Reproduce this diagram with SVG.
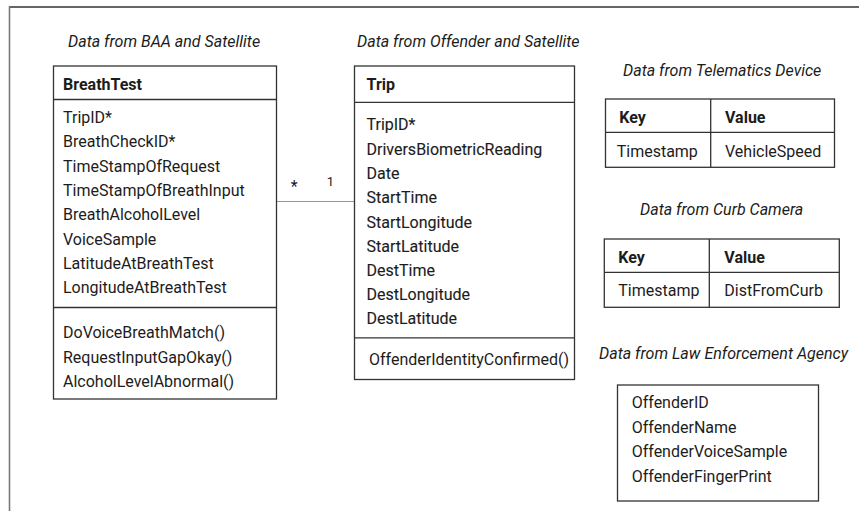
<svg xmlns="http://www.w3.org/2000/svg" width="859" height="511" viewBox="0 0 859 511">
  <style>
    text { font-family: Roboto, "Liberation Sans", sans-serif; fill: #1c1c1c; }
    .t { font-size: 16px; }
    .b { font-size: 16px; font-weight: bold; }
    .m { font-size: 16px; stroke: #1c1c1c; stroke-width: 0.12; }
    .cap { font-size: 16px; font-style: italic; }
    .mult { font-size: 13px; }
    .star { font-size: 16px; }
    .box { fill: #ffffff; stroke: #333333; stroke-width: 1.3; }
    .div { stroke: #333333; stroke-width: 1.3; fill: none; }
    .conn { stroke: #6a9fd6; stroke-width: 1.2; fill: none; }
  </style>

  <rect width="859" height="511" fill="#ffffff"/>

  <!-- frame -->
  <g id="frame">
    <line x1="9" y1="7" x2="859" y2="7" stroke="#333333" stroke-width="1.4"/>
    <line x1="9.5" y1="6.3" x2="9.5" y2="511" stroke="#7a7a7a" stroke-width="1.6"/>
  </g>

  <!-- section captions -->
  <g id="captions">
    <text class="cap" x="68" y="47">Data from BAA and Satellite</text>
    <text class="cap" x="357" y="47">Data from Offender and Satellite</text>
    <text class="cap" x="623" y="76">Data from Telematics Device</text>
    <text class="cap" x="640" y="215">Data from Curb Camera</text>
    <text class="cap" x="599" y="359">Data from Law Enforcement Agency</text>
  </g>

  <!-- associations -->
  <g id="connectors">
    <line class="conn" x1="276.5" y1="201.5" x2="354.5" y2="201.5"/>
    <text class="star" x="294.3" y="192" text-anchor="middle">*</text>
    <text class="mult" x="330.5" y="186" text-anchor="middle">1</text>
  </g>

  <!-- BreathTest class -->
  <g id="BreathTest">
    <rect class="box" x="53.5" y="66" width="223" height="333"/>
    <line class="div" x1="53.5" y1="99.5" x2="276.5" y2="99.5"/>
    <line class="div" x1="53.5" y1="307.5" x2="276.5" y2="307.5"/>
    <text class="b" x="63" y="90">BreathTest</text>
    <text class="t" x="63" y="123">TripID*</text>
    <text class="t" x="63" y="147.3">BreathCheckID*</text>
    <text class="t" x="63" y="171.6">TimeStampOfRequest</text>
    <text class="t" x="63" y="196">TimeStampOfBreathInput</text>
    <text class="t" x="63" y="220.2">BreathAlcoholLevel</text>
    <text class="t" x="63" y="244.5">VoiceSample</text>
    <text class="t" x="63" y="268.8">LatitudeAtBreathTest</text>
    <text class="t" x="63" y="293">LongitudeAtBreathTest</text>
    <text class="t" x="63" y="338.3">DoVoiceBreathMatch()</text>
    <text class="t" x="63" y="362.7">RequestInputGapOkay()</text>
    <text class="t" x="63" y="387.2">AlcoholLevelAbnormal()</text>
  </g>

  <!-- Trip class -->
  <g id="Trip">
    <rect class="box" x="354.5" y="66" width="220" height="313.5"/>
    <line class="div" x1="354.5" y1="102.3" x2="574.5" y2="102.3"/>
    <line class="div" x1="354.5" y1="337.8" x2="574.5" y2="337.8"/>
    <text class="b" x="366.5" y="90">Trip</text>
    <text class="m" x="366.5" y="130">TripID*</text>
    <text class="m" x="366.5" y="154.5">DriversBiometricReading</text>
    <text class="m" x="366.5" y="179">Date</text>
    <text class="m" x="366.5" y="203.3">StartTime</text>
    <text class="m" x="366.5" y="227.5">StartLongitude</text>
    <text class="m" x="366.5" y="251.7">StartLatitude</text>
    <text class="m" x="366.5" y="276">DestTime</text>
    <text class="m" x="366.5" y="300">DestLongitude</text>
    <text class="m" x="366.5" y="324.3">DestLatitude</text>
    <text class="t" x="369" y="365">OffenderIdentityConfirmed()</text>
  </g>

  <!-- Telematics key/value table -->
  <g id="Telematics">
    <rect class="box" x="605.5" y="99" width="229" height="68.3"/>
    <line class="div" x1="605.5" y1="132.3" x2="834.5" y2="132.3"/>
    <line class="div" x1="710.7" y1="99" x2="710.7" y2="167.3"/>
    <text class="b" x="619.3" y="123.3">Key</text>
    <text class="b" x="725" y="123.3">Value</text>
    <text class="t" x="616.7" y="157.3">Timestamp</text>
    <text class="t" x="725" y="157.3">VehicleSpeed</text>
  </g>

  <!-- Curb camera key/value table -->
  <g id="CurbCamera">
    <rect class="box" x="604.3" y="239" width="235" height="68.3"/>
    <line class="div" x1="604.3" y1="272.3" x2="839.3" y2="272.3"/>
    <line class="div" x1="709.3" y1="239" x2="709.3" y2="307.3"/>
    <text class="b" x="618.3" y="263.3">Key</text>
    <text class="b" x="724.3" y="263.3">Value</text>
    <text class="t" x="618.3" y="296">Timestamp</text>
    <text class="t" x="724.3" y="296">DistFromCurb</text>
  </g>

  <!-- Offender record -->
  <g id="Offender">
    <rect class="box" x="617.5" y="385" width="201" height="116"/>
    <text class="t" x="631.7" y="408.3">OffenderID</text>
    <text class="t" x="631.7" y="433">OffenderName</text>
    <text class="t" x="631.7" y="457.3">OffenderVoiceSample</text>
    <text class="t" x="631.7" y="481.7">OffenderFingerPrint</text>
  </g>
</svg>
